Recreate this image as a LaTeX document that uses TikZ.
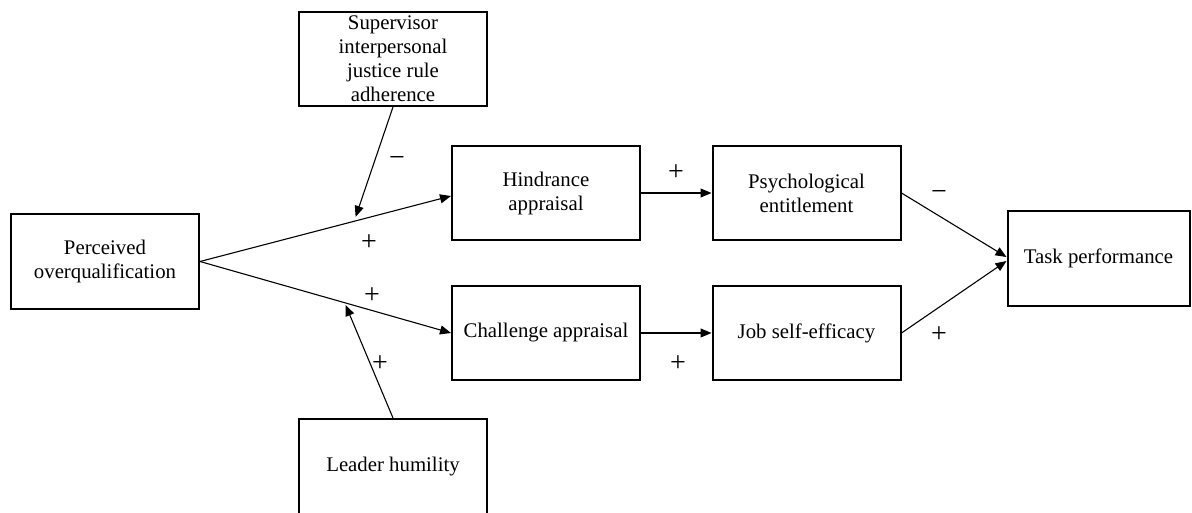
\documentclass[tikz,border=0pt]{standalone}
\usepackage{fontspec}
\setmainfont{Liberation Serif}
\newfontfamily\labelserif{Liberation Serif}
\usetikzlibrary{arrows.meta,calc}

\tikzset{
  var/.style={draw, line width=2pt, rectangle, inner sep=0pt,
    minimum width=188pt, minimum height=94pt, align=center,
    font=\labelserif\fontsize{20.8}{24}\selectfont},
  path/.style={line width=1.1pt, -{Triangle[length=11pt,width=9pt]}},
  sign/.style={font=\labelserif\fontsize{28}{30}\selectfont, inner sep=0pt}
}

\begin{document}
\begin{tikzpicture}[x=1pt, y=-1pt]
  \useasboundingbox (0,0) rectangle (1192,513);

  % constructs
  \node[var] (poq)  at (105,261.5)   {Perceived\\overqualification};
  \node[var] (sijr) at (393,59)      {Supervisor\\interpersonal\\justice rule\\adherence};
  \node[var] (ha)   at (546,193)     {Hindrance\\appraisal};
  \node[var] (ca)   at (546,333)     {Challenge appraisal};
  \node[var] (pe)   at (806.5,193)   {Psychological\\entitlement};
  \node[var] (jse)  at (806.5,333)   {Job self-efficacy};
  \node[var, minimum width=182pt] (tp) at (1098.5,258.5) {Task performance};
  \node[var, minimum height=96pt] (lh) at (393,467) {Leader humility};

  % main paths
  \draw[path] (poq.east) -- ([yshift=-3pt]ha.west);
  \draw[path] (poq.east) -- (ca.west);
  \draw[path] (ha.east) -- (pe.west);
  \draw[path] (ca.east) -- (jse.west);
  \draw[path] (pe.east) -- ([yshift=1.5pt]tp.west);
  \draw[path] (jse.east) -- ([yshift=-2.5pt]tp.west);

  % moderators
  \coordinate (modH) at ($(poq.east)!0.62!([yshift=-3pt]ha.west)$);
  \coordinate (modC) at ($(poq.east)!0.58!(ca.west)$);
  \draw[path] (sijr.south) -- ([yshift=4pt]modH);
  \draw[path] (lh.north) -- ([yshift=-2pt]modC);

  % signs
  \node[sign] (s1) at (397,162) {−};
  \node[sign] (s2) at (369,243) {+};
  \node[sign] (s3) at (372,296) {+};
  \node[sign] (s4) at (380,364) {+};
  \node[sign] (s5) at (676,173) {+};
  \node[sign] (s6) at (678,364) {+};
  \node[sign] (s7) at (939,196) {−};
  \node[sign] (s8) at (939,335) {+};
\end{tikzpicture}
\end{document}
